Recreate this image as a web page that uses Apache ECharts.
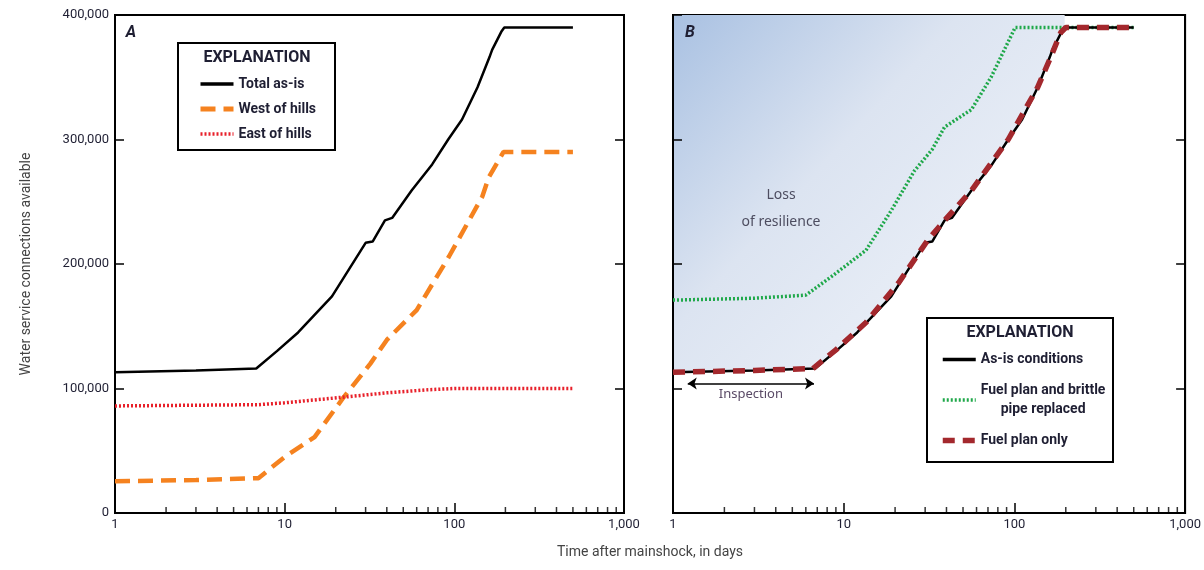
<!DOCTYPE html>
<html lang="en">
<head>
<meta charset="UTF-8">
<title>water service connections</title>
<script type="text/javascript" src="https://cdn.jsdelivr.net/npm/echarts@6/dist/echarts.min.js"></script>
<style>html,body{margin:0;background:#fff;}</style>
</head>
<body>
<div id="main" style="width:1204px;height:570px;"></div>
<script type="text/javascript">
// panel A
var asIsDays = [1, 3, 6.8, 9, 12, 19, 30, 33, 39, 43, 56, 74, 92, 111, 137, 161, 167, 190, 197, 500];
var asIsVals = [113000, 114500, 116000, 130000, 145000, 174000, 217000, 218000, 235000, 237000, 259000, 280000, 300000, 316000, 342000, 366000, 372000, 387000, 390000, 390000];
var westDays = [1, 3, 7, 10, 15, 22, 32, 40, 60, 93, 146, 160, 195, 500];
var westVals = [25500, 26500, 28000, 45000, 61000, 92000, 120000, 139000, 163000, 206000, 254000, 270000, 290000, 290000];
var eastDays = [1, 7, 10, 22, 40, 70, 100, 500];
var eastVals = [86000, 87000, 88500, 93000, 96500, 99000, 100000, 100000];
// panel B
var fuelDays = [1, 3, 6.6, 9, 13.5, 21, 31, 39, 56, 92, 137, 163, 187, 200, 500];
var fuelVals = [113000, 114500, 116000, 131000, 153000, 185000, 219000, 235000, 259000, 300000, 342000, 366000, 386000, 390000, 390000];
var pipeDays = [1, 3, 6, 8.5, 13.5, 19, 26, 33, 39, 56, 73, 101, 500];
var pipeVals = [171000, 172500, 175000, 190000, 211000, 243000, 275000, 292000, 310000, 324000, 350000, 390000, 390000];
var inspection = [1.22, 6.7];
var inspectionLevel = 104000;
var minorTickDays = [2, 3, 4, 5, 6, 7, 8, 9, 20, 30, 40, 50, 60, 70, 80, 90, 200, 300, 400, 500, 600, 700, 800, 900];

var FONT = 'Roboto, "Liberation Sans", sans-serif';
var TXT = '#1f1f33';

// line looks, shared by series and legend
var S_ASIS = { color: '#000', width: 2.5 };
var S_WEST = { color: '#f5821f', width: 4.5, type: [15, 8] };
var S_EAST = { color: '#e8202a', width: 3.5, type: [2, 2] };
var S_PIPE = { color: '#1fa84a', width: 3.5, type: [2, 2] };
var S_FUEL = { color: '#a3282d', width: 5.5, type: [12, 8] };

function pairs(xs, ys) {
    return xs.map(function (x, i) { return [x, ys[i]]; });
}
var asIs = pairs(asIsDays, asIsVals);
var fillData = asIs.filter(function (p) { return p[0] <= 200; });
var minorTicks = minorTickDays.map(function (d) { return [d, 0]; });

function xAxis(gi) {
    return {
        type: 'log', logBase: 10, min: 1, max: 1000, gridIndex: gi,
        axisLine: { lineStyle: { color: '#000', width: 2 } },
        axisTick: { inside: true, length: 10, lineStyle: { color: '#000', width: 1.5 } },
        axisLabel: { color: TXT, fontFamily: FONT, fontSize: 13, margin: 5,
            formatter: function (v) { return Number(v).toLocaleString('en-US'); } },
        splitLine: { show: false }
    };
}
function yAxis(gi, pos, labels) {
    return {
        type: 'value', min: 0, max: 400000, interval: 100000, gridIndex: gi, position: pos,
        axisLine: { show: true, lineStyle: { color: '#000', width: 2 } },
        axisTick: { show: true, inside: true, length: 9, lineStyle: { color: '#000', width: 1.5 } },
        axisLabel: { show: labels, color: TXT, fontFamily: FONT, fontSize: 13, margin: 6,
            formatter: function (v) { return v.toLocaleString('en-US'); } },
        splitLine: { show: false },
        name: labels ? 'Water service connections available' : '',
        nameLocation: 'middle', nameGap: 82,
        nameTextStyle: { color: '#444', fontFamily: FONT, fontSize: 14 }
    };
}
function tickSeries(xi, yi) {
    return {
        type: 'scatter', xAxisIndex: xi, yAxisIndex: yi, data: minorTicks, silent: true, clip: false,
        symbol: 'rect', symbolSize: [1.5, 6], symbolOffset: [0, -3],
        itemStyle: { color: '#000' }, z: 5
    };
}
function lineSeries(name, xi, yi, data, st, z) {
    return { name: name, type: 'line', xAxisIndex: xi, yAxisIndex: yi, data: data, symbol: 'none',
             lineStyle: st, itemStyle: { color: st.color }, z: z };
}

var myChart = echarts.init(document.getElementById('main'));
var asIsB = lineSeries('As-is conditions', 1, 2, asIs, S_ASIS, 3);
asIsB.markLine = {
    silent: true, symbol: ['arrow', 'arrow'], symbolSize: 9,
    lineStyle: { color: '#000', width: 1.5, type: 'solid' },
    label: { show: true, position: 'insideMiddleBottom', formatter: 'Inspection', color: '#5a4a66',
             fontFamily: '"Noto Sans", sans-serif', fontSize: 13, distance: 4 },
    data: [[{ coord: [inspection[0], inspectionLevel] }, { coord: [inspection[1], inspectionLevel] }]]
};

myChart.setOption({
    animation: false,
    grid: [
        { left: 115, right: 580, top: 15, bottom: 57, show: true, borderColor: '#000', borderWidth: 2 },
        { left: 673, right: 16, top: 15, bottom: 57, show: true, borderColor: '#000', borderWidth: 2 }
    ],
    xAxis: [xAxis(0), xAxis(1)],
    yAxis: [yAxis(0, 'left', true), yAxis(0, 'right', false), yAxis(1, 'left', false), yAxis(1, 'right', false)],
    legend: [
        {
            orient: 'vertical', left: 193, top: 72, itemWidth: 33, itemHeight: 14, itemGap: 11,
            itemStyle: { opacity: 0 },
            data: [
                { name: 'Total as-is', lineStyle: { width: 3.5 } },
                { name: 'West of hills', lineStyle: { width: 5 } },
                { name: 'East of hills', lineStyle: { width: 3.5 } }
            ],
            textStyle: { color: TXT, fontFamily: FONT, fontSize: 14, fontWeight: 'bold' }
        },
        {
            orient: 'vertical', left: 935, top: 345, itemWidth: 33, itemHeight: 14, itemGap: 12,
            itemStyle: { opacity: 0 },
            data: [
                { name: 'As-is conditions', lineStyle: { width: 3.5 } },
                { name: 'Fuel plan and brittle pipe replaced', lineStyle: { width: 3.5 } },
                { name: 'Fuel plan only', lineStyle: { width: 5.5 } }
            ],
            formatter: function (name) {
                if (name === 'Fuel plan and brittle pipe replaced') {
                    return '{c|Fuel plan and brittle}\n{c|pipe replaced}';
                }
                return name;
            },
            textStyle: { color: TXT, fontFamily: FONT, fontSize: 14, fontWeight: 'bold', lineHeight: 19,
                rich: { c: { align: 'center', color: TXT, fontFamily: FONT, fontSize: 14, fontWeight: 'bold', lineHeight: 19 } } }
        }
    ],
    graphic: [
        { type: 'rect', shape: { x: 178, y: 43, width: 157, height: 107 }, style: { fill: 'none', stroke: '#000', lineWidth: 2 }, z: 10 },
        { type: 'text', x: 257, y: 58, style: { text: 'EXPLANATION', fill: TXT, font: 'bold 16px ' + FONT, textAlign: 'center', textVerticalAlign: 'middle' }, z: 10 },
        { type: 'rect', shape: { x: 927, y: 318, width: 186, height: 144 }, style: { fill: '#fff', stroke: '#000', lineWidth: 2 }, z: 1 },
        { type: 'text', x: 1020, y: 333, style: { text: 'EXPLANATION', fill: TXT, font: 'bold 16px ' + FONT, textAlign: 'center', textVerticalAlign: 'middle' }, z: 10 },
        { type: 'text', x: 131, y: 33, style: { text: 'A', fill: TXT, font: 'italic bold 16px ' + FONT, textAlign: 'center', textVerticalAlign: 'middle' }, z: 10 },
        { type: 'text', x: 690, y: 33, style: { text: 'B', fill: TXT, font: 'italic bold 16px ' + FONT, textAlign: 'center', textVerticalAlign: 'middle' }, z: 10 },
        { type: 'text', x: 781, y: 182, style: { text: 'Loss\nof resilience', fill: '#4d4d60', font: '14px "Noto Sans", sans-serif', textAlign: 'center', lineHeight: 27 }, z: 10 },
        { type: 'text', x: 650, y: 552, style: { text: 'Time after mainshock, in days', fill: '#444', font: '14px ' + FONT, textAlign: 'center', textVerticalAlign: 'middle' }, z: 10 }
    ],
    series: [
        lineSeries('Total as-is', 0, 0, asIs, S_ASIS, 4),
        lineSeries('West of hills', 0, 0, pairs(westDays, westVals), S_WEST, 3),
        lineSeries('East of hills', 0, 0, pairs(eastDays, eastVals), S_EAST, 3),
        tickSeries(0, 0),
        { name: 'fill', type: 'line', xAxisIndex: 1, yAxisIndex: 2, data: fillData, symbol: 'none', silent: true,
          lineStyle: { width: 0 },
          areaStyle: { origin: 'end', opacity: 1, color: new echarts.graphic.LinearGradient(0, 0, 1, 1, [
              { offset: 0, color: '#a9c1e2' }, { offset: 0.4, color: '#dce4f1' }, { offset: 1, color: '#f3f6fb' }]) },
          z: 0 },
        lineSeries('Fuel plan and brittle pipe replaced', 1, 2, pairs(pipeDays, pipeVals), S_PIPE, 3),
        asIsB,
        lineSeries('Fuel plan only', 1, 2, pairs(fuelDays, fuelVals), S_FUEL, 4),
        tickSeries(1, 2)
    ]
});
</script>
</body>
</html>
